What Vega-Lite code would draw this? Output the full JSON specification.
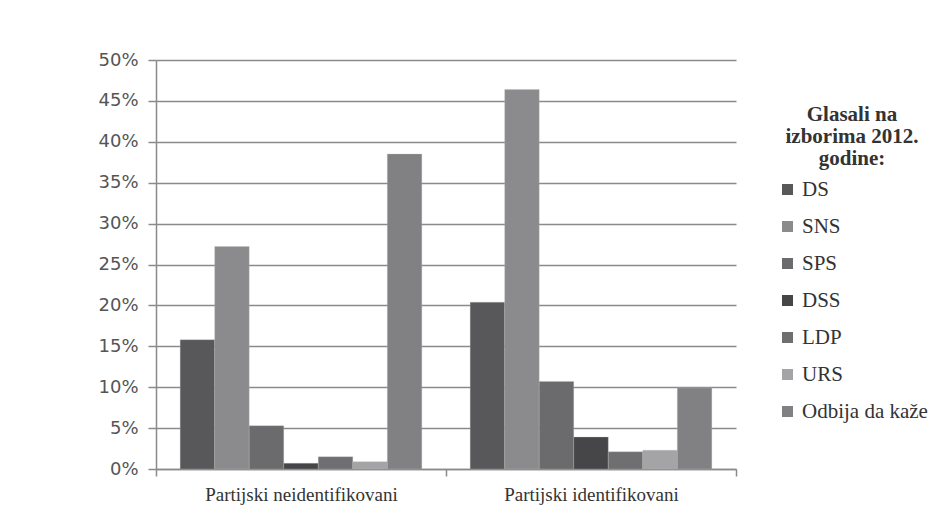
{
  "$schema": "https://vega.github.io/schema/vega-lite/v6.json",
  "width": 580,
  "height": 409,
  "autosize": {"type": "none"},
  "padding": {"left": 156, "top": 60, "right": 203, "bottom": 45},
  "background": "white",
  "config": {"view": {"stroke": null}},
  "data": {
    "values": [
      {"grupa": "Partijski neidentifikovani", "stranka": "DS", "udeo": 0.158},
      {"grupa": "Partijski neidentifikovani", "stranka": "SNS", "udeo": 0.272},
      {"grupa": "Partijski neidentifikovani", "stranka": "SPS", "udeo": 0.053},
      {"grupa": "Partijski neidentifikovani", "stranka": "DSS", "udeo": 0.007},
      {"grupa": "Partijski neidentifikovani", "stranka": "LDP", "udeo": 0.015},
      {"grupa": "Partijski neidentifikovani", "stranka": "URS", "udeo": 0.009},
      {"grupa": "Partijski neidentifikovani", "stranka": "Odbija da kaže", "udeo": 0.385},
      {"grupa": "Partijski identifikovani", "stranka": "DS", "udeo": 0.204},
      {"grupa": "Partijski identifikovani", "stranka": "SNS", "udeo": 0.464},
      {"grupa": "Partijski identifikovani", "stranka": "SPS", "udeo": 0.107},
      {"grupa": "Partijski identifikovani", "stranka": "DSS", "udeo": 0.039},
      {"grupa": "Partijski identifikovani", "stranka": "LDP", "udeo": 0.021},
      {"grupa": "Partijski identifikovani", "stranka": "URS", "udeo": 0.023},
      {"grupa": "Partijski identifikovani", "stranka": "Odbija da kaže", "udeo": 0.099}
    ]
  },
  "mark": {"type": "bar", "stroke": "#bdbdbd", "strokeWidth": 0.5, "strokeOpacity": 0.6},
  "encoding": {
    "x": {
      "field": "grupa",
      "type": "nominal",
      "sort": ["Partijski neidentifikovani", "Partijski identifikovani"],
      "scale": {"paddingInner": 0, "paddingOuter": 0},
      "axis": {
        "title": null,
        "labelAngle": 0,
        "labelFont": "Liberation Serif",
        "labelFontSize": 19,
        "labelColor": "#333333",
        "labelPadding": 9,
        "labelLimit": 400,
        "tickBand": "extent",
        "tickSize": 7,
        "tickColor": "#8a8a8a",
        "tickWidth": 1.5,
        "domainColor": "#8a8a8a",
        "domainWidth": 1.5
      }
    },
    "xOffset": {
      "field": "stranka",
      "type": "nominal",
      "sort": ["DS", "SNS", "SPS", "DSS", "LDP", "URS", "Odbija da kaže"],
      "scale": {"paddingInner": 0, "paddingOuter": 0.7}
    },
    "y": {
      "field": "udeo",
      "type": "quantitative",
      "scale": {"domain": [0, 0.5], "nice": false},
      "axis": {
        "title": null,
        "format": ".0%",
        "values": [0, 0.05, 0.1, 0.15, 0.2, 0.25, 0.3, 0.35, 0.4, 0.45, 0.5],
        "labelFont": "DejaVu Sans",
        "labelFontSize": 18,
        "labelColor": "#555555",
        "labelPadding": 10,
        "tickSize": 8,
        "tickColor": "#8a8a8a",
        "tickWidth": 1.5,
        "domainColor": "#8a8a8a",
        "domainWidth": 1.5,
        "grid": true,
        "gridColor": "#8a8a8a",
        "gridWidth": 1.5
      }
    },
    "color": {
      "field": "stranka",
      "type": "nominal",
      "sort": ["DS", "SNS", "SPS", "DSS", "LDP", "URS", "Odbija da kaže"],
      "scale": {
        "domain": ["DS", "SNS", "SPS", "DSS", "LDP", "URS", "Odbija da kaže"],
        "range": ["#58585a", "#8b8b8d", "#6b6b6d", "#464648", "#6f6f71", "#a4a4a6", "#818183"]
      },
      "legend": {
        "title": ["Glasali na", "izborima 2012.", "godine:"],
        "orient": "none",
        "legendX": 621,
        "legendY": 44,
        "titleFont": "Liberation Serif",
        "titleFontSize": 21,
        "titleFontWeight": "bold",
        "titleColor": "#333333",
        "titleAlign": "center",
        "titleAnchor": "middle",
        "titleLineHeight": 22,
        "titlePadding": 10,
        "titleLimit": 300,
        "symbolType": "square",
        "symbolSize": 121,
        "symbolStrokeWidth": 0,
        "labelFont": "Liberation Serif",
        "labelFontSize": 21,
        "labelColor": "#333333",
        "labelOffset": 4,
        "labelLimit": 300,
        "rowPadding": 15
      }
    }
  }
}
